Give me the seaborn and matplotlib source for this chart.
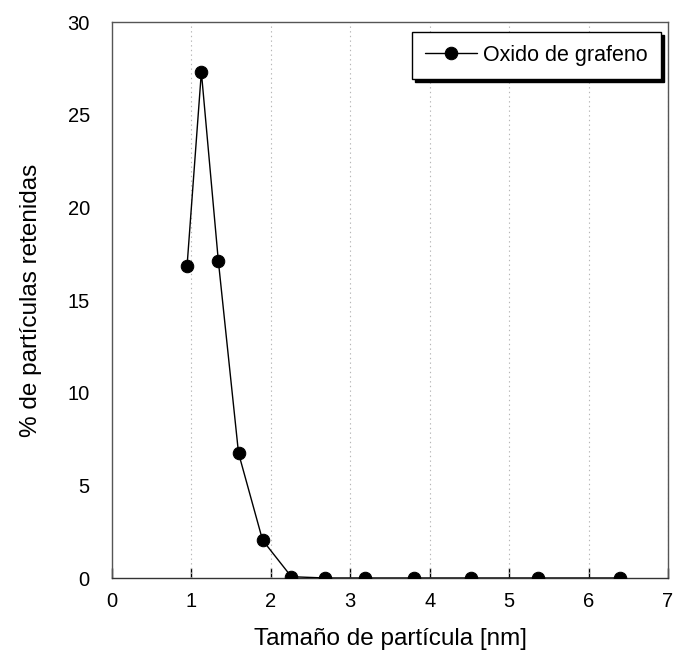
import matplotlib
matplotlib.use("Agg")
import matplotlib.pyplot as plt
import seaborn as sns
import pandas as pd

size_nm = [0.945, 1.125, 1.339, 1.593, 1.896, 2.258, 2.687, 3.184, 3.797, 4.518, 5.364, 6.391]
retained_pct = [16.84, 27.3, 17.1, 6.74, 2.04, 0.07, 0.0, 0.0, 0.0, 0.0, 0.0, 0.0]
series_name = "Oxido de grafeno"
x_ticks = [0, 1, 2, 3, 4, 5, 6, 7]
y_ticks = [0, 5, 10, 15, 20, 25, 30]

df = pd.DataFrame({"size": size_nm, "pct": retained_pct, "serie": series_name})

sns.set_theme(style="white")
plt.rcParams['font.family'] = ['Liberation Sans', 'DejaVu Sans']
plt.rcParams['text.color'] = 'black'
plt.rcParams['xtick.color'] = 'black'
plt.rcParams['ytick.color'] = 'black'
plt.rcParams['axes.labelcolor'] = 'black'

fig = plt.figure(figsize=(6.75, 6.59), dpi=100)
ax = fig.add_axes([112/675, 1-578/659, (668-112)/675, (578-22)/659])

sns.lineplot(data=df, x="size", y="pct", marker="o", color="black", markersize=9,
             linewidth=1.0, markeredgecolor="black", label=series_name, ax=ax, zorder=3)

ax.set_xlim(0, 7)
ax.set_ylim(0, 30)
ax.set_xticks(x_ticks)
ax.set_yticks(y_ticks)
ax.set_xticklabels([str(t) for t in x_ticks], fontsize=14.5)
ax.set_yticklabels([str(t) for t in y_ticks], fontsize=14.5)

for xv in x_ticks[1:]:
    ax.axvline(xv, color="#b5b5b5", linestyle=(0, (1.2, 3)), linewidth=0.8, zorder=1)

for s in ax.spines.values():
    s.set_color("#555555")
    s.set_linewidth(1.0)
ax.spines["bottom"].set_color("#333333")

ax.tick_params(axis="x", direction="in", length=7, width=1, color="black", pad=10, bottom=True)
ax.tick_params(axis="y", length=0, pad=16, left=False)

ax.set_xlabel("Tamaño de partícula [nm]", fontsize=17.5, labelpad=12)
ax.set_ylabel("% de partículas retenidas", fontsize=17.5, labelpad=18)

leg = ax.legend(loc="upper right", bbox_to_anchor=(0.9874, 0.982), borderaxespad=0,
                fontsize=15.5, frameon=True, fancybox=False,
                shadow={"color": "black", "alpha": 1},
                handlelength=2.4, borderpad=0.6, handletextpad=0.3)
leg.get_frame().set_edgecolor("black")
leg.get_frame().set_linewidth(1.0)
leg.get_frame().set_alpha(1)

fig.savefig("out.png", dpi=100, facecolor="white")
